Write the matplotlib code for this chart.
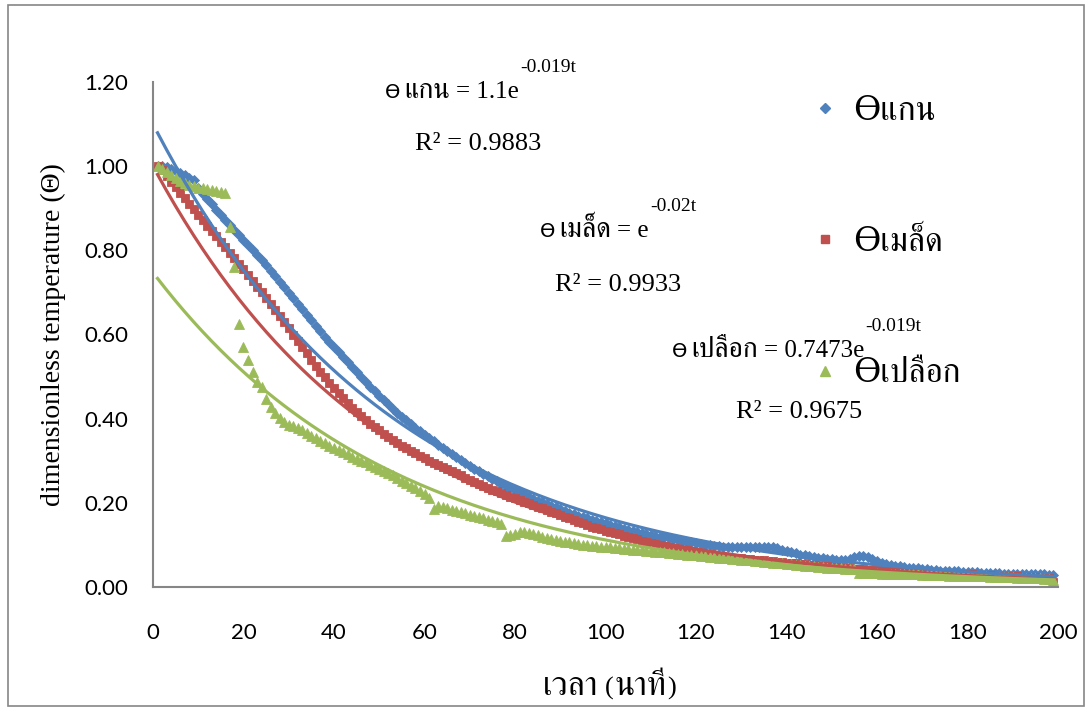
"""
Cooling curves: dimensionless temperature of core, seed and shell vs time,
with exponential trendlines.
"""
import numpy as np
import matplotlib
matplotlib.use('Agg')
import matplotlib.pyplot as plt
from matplotlib import font_manager
from matplotlib.lines import Line2D
from matplotlib.patches import Rectangle

# time in minutes, one reading per minute
t = np.arange(1, 200)

theta_core = [
    1.000, 1.000, 0.998, 0.994, 0.989, 0.984, 0.979, 0.973, 0.966, 0.948,
    0.935, 0.922, 0.909, 0.897, 0.885, 0.873, 0.861, 0.849, 0.837, 0.825,
    0.813, 0.801, 0.789, 0.777, 0.764, 0.751, 0.738, 0.725, 0.712, 0.699,
    0.686, 0.673, 0.660, 0.647, 0.634, 0.621, 0.608, 0.595, 0.582, 0.570,
    0.558, 0.546, 0.534, 0.522, 0.510, 0.498, 0.487, 0.476, 0.465, 0.454,
    0.444, 0.434, 0.424, 0.414, 0.405, 0.396, 0.387, 0.378, 0.370, 0.362,
    0.354, 0.346, 0.338, 0.330, 0.323, 0.316, 0.309, 0.302, 0.295, 0.288,
    0.281, 0.275, 0.269, 0.263, 0.257, 0.251, 0.245, 0.240, 0.235, 0.230,
    0.225, 0.220, 0.215, 0.210, 0.205, 0.201, 0.197, 0.193, 0.189, 0.185,
    0.181, 0.177, 0.173, 0.169, 0.166, 0.163, 0.160, 0.157, 0.154, 0.151,
    0.148, 0.145, 0.142, 0.139, 0.136, 0.133, 0.130, 0.128, 0.126, 0.124,
    0.122, 0.120, 0.118, 0.116, 0.114, 0.112, 0.110, 0.108, 0.106, 0.104,
    0.102, 0.100, 0.099, 0.098, 0.097, 0.096, 0.096, 0.095, 0.095, 0.095,
    0.095, 0.095, 0.095, 0.095, 0.095, 0.095, 0.094, 0.092, 0.089, 0.086,
    0.083, 0.080, 0.077, 0.075, 0.073, 0.071, 0.069, 0.068, 0.067, 0.066,
    0.065, 0.064, 0.064, 0.066, 0.071, 0.074, 0.074, 0.072, 0.067, 0.062,
    0.058, 0.055, 0.053, 0.051, 0.049, 0.047, 0.046, 0.045, 0.044, 0.043,
    0.042, 0.041, 0.040, 0.039, 0.039, 0.038, 0.037, 0.037, 0.036, 0.036,
    0.035, 0.035, 0.034, 0.034, 0.033, 0.033, 0.033, 0.032, 0.032, 0.032,
    0.031, 0.031, 0.031, 0.030, 0.030, 0.030, 0.030, 0.029, 0.029,
]

theta_seed = [
    1.000, 0.990, 0.977, 0.963, 0.950, 0.937, 0.924, 0.911, 0.898, 0.885,
    0.872, 0.859, 0.846, 0.833, 0.820, 0.807, 0.794, 0.781, 0.768, 0.755,
    0.742, 0.728, 0.714, 0.700, 0.686, 0.672, 0.658, 0.644, 0.630, 0.615,
    0.600, 0.585, 0.570, 0.555, 0.540, 0.526, 0.512, 0.498, 0.485, 0.472,
    0.460, 0.448, 0.437, 0.426, 0.416, 0.406, 0.397, 0.388, 0.380, 0.372,
    0.364, 0.357, 0.350, 0.343, 0.336, 0.330, 0.324, 0.318, 0.312, 0.306,
    0.300, 0.295, 0.290, 0.285, 0.280, 0.275, 0.270, 0.265, 0.260, 0.255,
    0.250, 0.245, 0.240, 0.235, 0.231, 0.227, 0.223, 0.219, 0.215, 0.211,
    0.207, 0.203, 0.199, 0.195, 0.191, 0.187, 0.183, 0.179, 0.175, 0.171,
    0.167, 0.163, 0.159, 0.155, 0.151, 0.147, 0.143, 0.140, 0.137, 0.134,
    0.131, 0.128, 0.125, 0.122, 0.119, 0.116, 0.113, 0.110, 0.107, 0.104,
    0.101, 0.099, 0.097, 0.095, 0.093, 0.091, 0.089, 0.087, 0.085, 0.083,
    0.081, 0.079, 0.077, 0.075, 0.073, 0.072, 0.071, 0.070, 0.069, 0.068,
    0.067, 0.066, 0.065, 0.064, 0.063, 0.062, 0.061, 0.060, 0.059, 0.058,
    0.057, 0.056, 0.055, 0.054, 0.053, 0.052, 0.051, 0.050, 0.049, 0.048,
    0.047, 0.046, 0.045, 0.044, 0.043, 0.042, 0.042, 0.041, 0.041, 0.040,
    0.040, 0.039, 0.039, 0.038, 0.038, 0.037, 0.037, 0.036, 0.036, 0.035,
    0.035, 0.034, 0.034, 0.033, 0.033, 0.032, 0.032, 0.031, 0.031, 0.030,
    0.030, 0.029, 0.029, 0.028, 0.028, 0.027, 0.027, 0.026, 0.026, 0.025,
    0.025, 0.024, 0.024, 0.023, 0.023, 0.022, 0.022, 0.021, 0.012,
]

theta_shell = [
    1.000, 0.993, 0.986, 0.979, 0.972, 0.965, 0.959, 0.955, 0.952, 0.949,
    0.947, 0.945, 0.943, 0.941, 0.939, 0.937, 0.855, 0.760, 0.625, 0.570,
    0.540, 0.510, 0.488, 0.475, 0.446, 0.428, 0.414, 0.402, 0.393, 0.386,
    0.382, 0.377, 0.372, 0.366, 0.360, 0.354, 0.348, 0.342, 0.336, 0.330,
    0.325, 0.320, 0.315, 0.310, 0.305, 0.300, 0.296, 0.291, 0.286, 0.281,
    0.276, 0.271, 0.265, 0.259, 0.253, 0.247, 0.241, 0.235, 0.229, 0.222,
    0.212, 0.186, 0.192, 0.190, 0.187, 0.184, 0.181, 0.178, 0.175, 0.172,
    0.169, 0.166, 0.163, 0.160, 0.157, 0.154, 0.150, 0.122, 0.124, 0.127,
    0.130, 0.131, 0.129, 0.126, 0.123, 0.120, 0.117, 0.114, 0.112, 0.110,
    0.108, 0.106, 0.104, 0.102, 0.100, 0.099, 0.098, 0.097, 0.096, 0.095,
    0.094, 0.093, 0.092, 0.091, 0.090, 0.089, 0.088, 0.087, 0.086, 0.085,
    0.084, 0.083, 0.082, 0.081, 0.080, 0.079, 0.078, 0.077, 0.076, 0.075,
    0.074, 0.073, 0.072, 0.071, 0.070, 0.069, 0.068, 0.067, 0.066, 0.065,
    0.064, 0.063, 0.062, 0.061, 0.060, 0.059, 0.058, 0.057, 0.056, 0.055,
    0.054, 0.053, 0.052, 0.051, 0.050, 0.049, 0.048, 0.047, 0.046, 0.045,
    0.044, 0.044, 0.043, 0.043, 0.042, 0.034, 0.034, 0.033, 0.033, 0.033,
    0.032, 0.032, 0.032, 0.031, 0.031, 0.031, 0.030, 0.030, 0.030, 0.029,
    0.029, 0.029, 0.028, 0.028, 0.028, 0.027, 0.027, 0.027, 0.026, 0.026,
    0.026, 0.025, 0.025, 0.025, 0.024, 0.024, 0.024, 0.023, 0.023, 0.023,
    0.022, 0.022, 0.022, 0.021, 0.021, 0.021, 0.020, 0.020, 0.016,
]

# exponential trendlines y = a * exp(b t), as printed on the chart
trend_a = [1.1, 1.0, 0.7473]
trend_b = [-0.019, -0.02, -0.019]
r_squared = ['0.9883', '0.9933', '0.9675']

names = ['แกน', 'เมล็ด', 'เปลือก']
colors = ['#4F81BD', '#C0504D', '#9BBB59']
markers = ['D', 's', '^']
msizes = [4.8, 5.6, 6.8]

x_ticks = list(range(0, 201, 20))
y_ticks = [0.0, 0.2, 0.4, 0.6, 0.8, 1.0, 1.2]

# serif Thai font, first one that is installed
installed = {f.name for f in font_manager.fontManager.ttflist}
thai = next((p for p in ['FreeSerif', 'Noto Serif Thai', 'Maitree', 'Loma']
             if p in installed), 'DejaVu Sans')

W, H = 1091, 710
fig = plt.figure(figsize=(W / 100, H / 100), dpi=100)


def px(x, y):
    return x / W, 1 - y / H


def chain(x, y, parts):
    """Draw text pieces left to right on one baseline (pixel coords)."""
    r = fig.canvas.get_renderer()
    xf, yf = px(x, y)
    for s, fam, size, gap in parts:
        xf += gap / W
        txt = fig.text(xf, yf, s, family=fam, fontsize=size, va='baseline')
        xf = txt.get_window_extent(renderer=r).x1 / W
    return xf * W


ax = fig.add_axes([153 / W, 1 - 587 / H, 905 / W, 505 / H])

series = [theta_core, theta_seed, theta_shell]
handles = []
for vals, col, mk, ms, name in zip(series, colors, markers, msizes, names):
    ax.plot(t, vals, linestyle='none', marker=mk, ms=ms, color=col,
            markeredgewidth=0.6, zorder=2)
    handles.append(Line2D([], [], linestyle='none', marker=mk, ms=ms + 0.5,
                          color=col, label='ϴ' + name))

for a, b, col in zip(trend_a, trend_b, colors):
    ax.plot(t, a * np.exp(b * t), color=col, linewidth=2.3, zorder=3)

ax.set_xlim(0, 200)
ax.set_ylim(0, 1.2)
ax.set_xticks(x_ticks)
ax.set_yticks(y_ticks)
ax.set_yticklabels([f'{v:.2f}' for v in y_ticks])
for side in ['top', 'right']:
    ax.spines[side].set_visible(False)
for side in ['left', 'bottom']:
    ax.spines[side].set_color('#868686')
    ax.spines[side].set_linewidth(1.5)
ax.tick_params(axis='both', length=0, labelsize=16, colors='black')
ax.tick_params(axis='y', pad=18)
ax.tick_params(axis='x', pad=26)
for lab in ax.get_xticklabels() + ax.get_yticklabels():
    lab.set_family(['Lato', 'DejaVu Sans'])

ax.set_ylabel('dimensionless temperature (Θ)', family='Liberation Serif',
              fontsize=20, labelpad=13)

leg = ax.legend(handles=handles, loc='upper left',
                bbox_to_anchor=px(796, 78), bbox_transform=fig.transFigure,
                frameon=False, fontsize=24, labelspacing=2.98,
                handlelength=0.75, handletextpad=0.45, borderpad=0)
for txt in leg.get_texts():
    txt.set_family(['DejaVu Serif', thai])

# x axis title: Thai words in the Thai font, brackets in the serif font
chain(543, 695, [('เวลา', thai, 24, 0), ('(', 'Liberation Serif', 19, 6),
                 ('นาที', thai, 24, 1), (')', 'Liberation Serif', 19, 1)])

# trendline equations and R^2 values
eq_pos = [(385, 98), (540, 237), (672, 357)]
r2_pos = [(415, 150), (555, 291), (736, 418)]
eq_base = ['1.1e', 'e', '0.7473e']
eq_sup = ['-0.019t', '-0.02t', '-0.019t']
for i in range(3):
    x0, y0 = eq_pos[i]
    x1 = chain(x0, y0, [('ϴ', 'DejaVu Sans', 14, 0),
                        (names[i], thai, 20, 4),
                        ('= ' + eq_base[i], 'Liberation Serif', 18, 6)])
    chain(x1, y0 - 26, [(eq_sup[i], 'Liberation Serif', 14, 1)])
    fig.text(*px(*r2_pos[i]), 'R² = ' + r_squared[i],
             family='Liberation Serif', fontsize=19, va='baseline')

# chart area border
fig.patches.append(Rectangle(px(8, 706), 1076 / W, 701 / H,
                             transform=fig.transFigure, fill=False,
                             edgecolor='#868686', linewidth=1.2))

fig.savefig('out.png', dpi=100)
